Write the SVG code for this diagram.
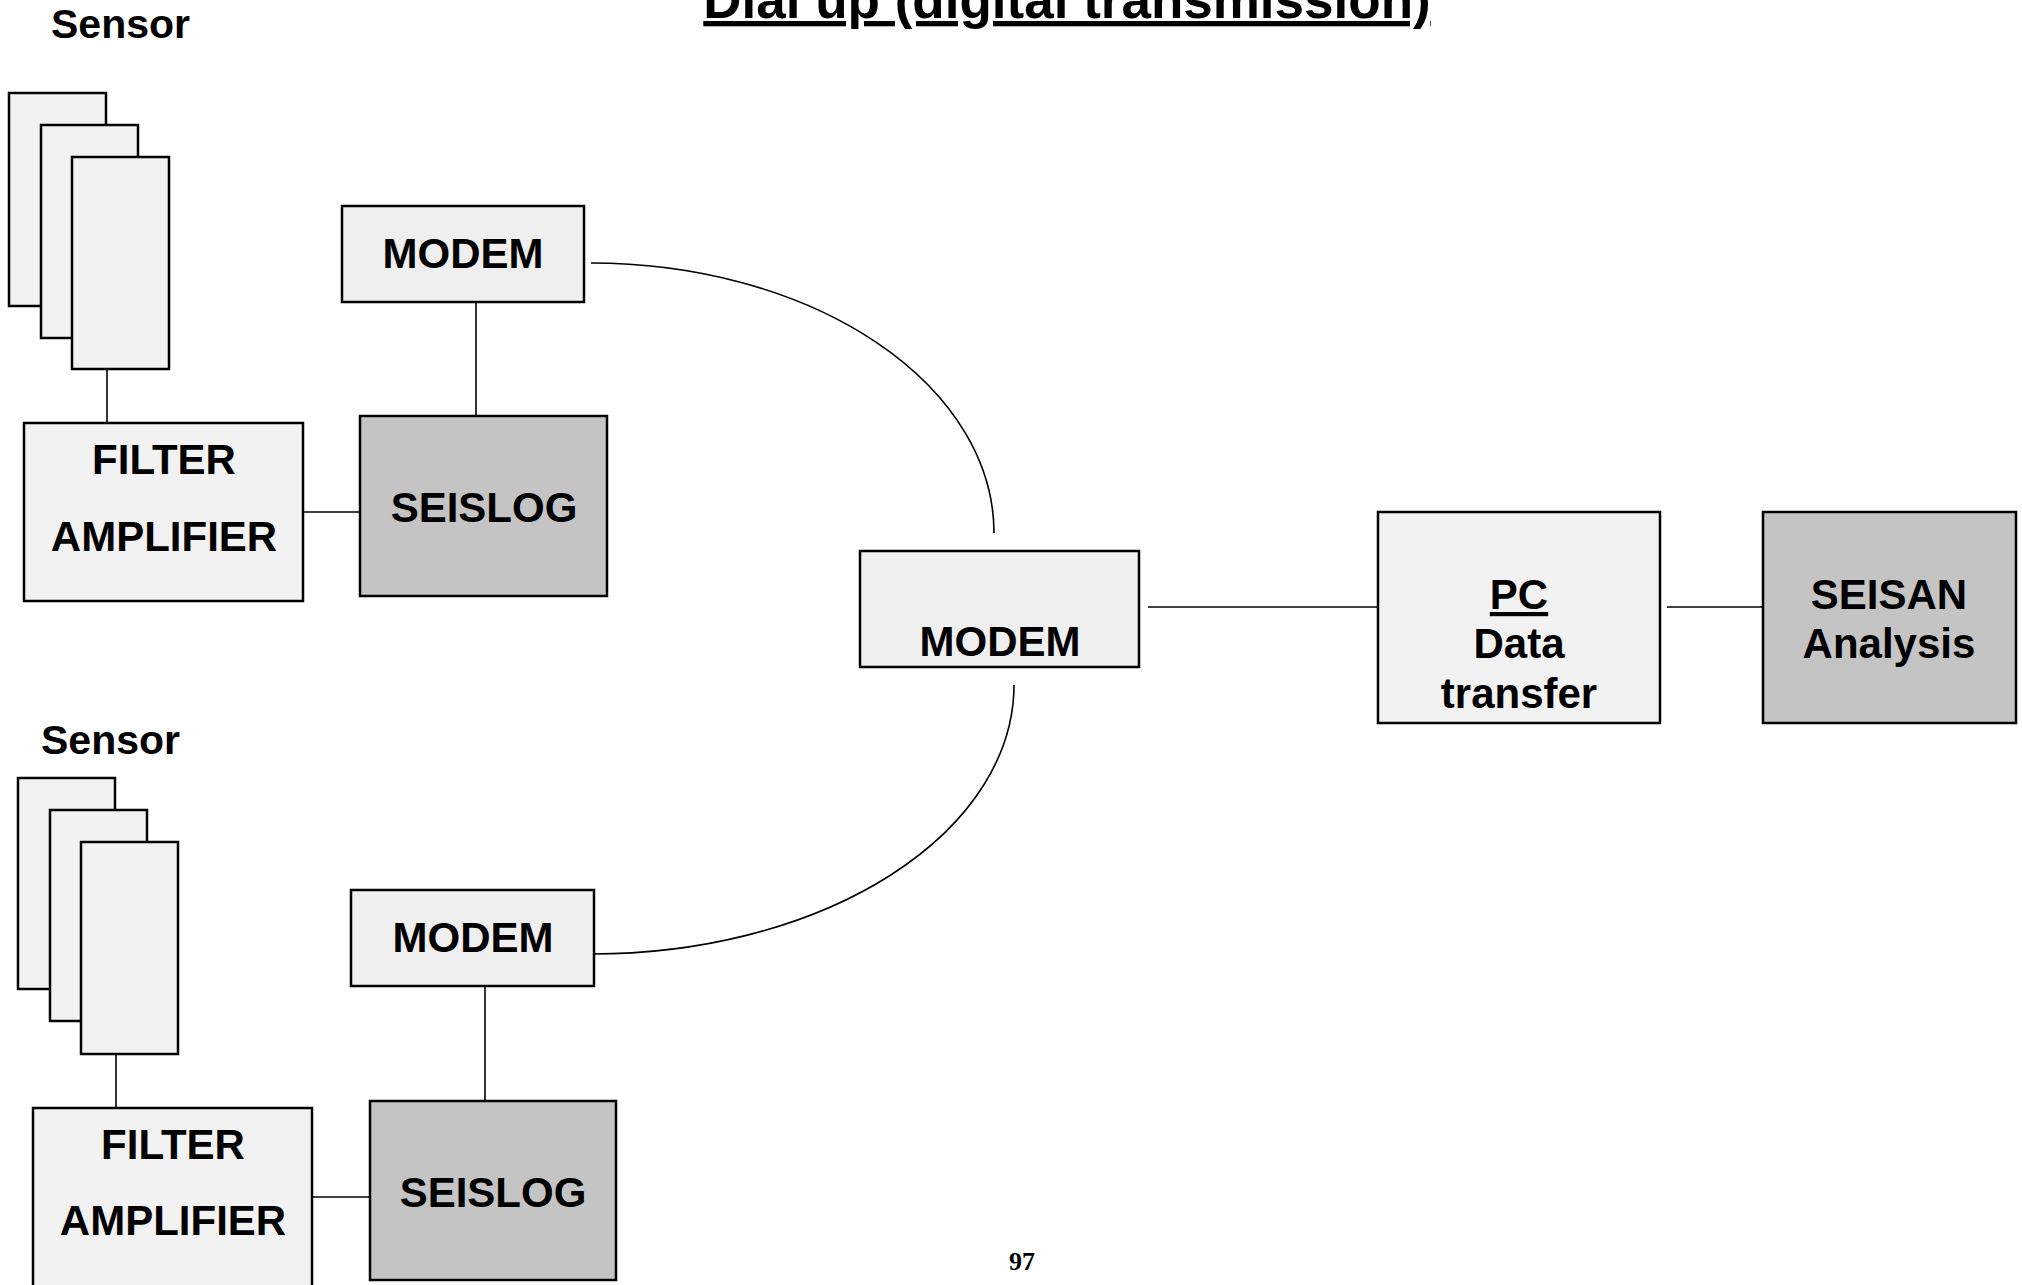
<svg xmlns="http://www.w3.org/2000/svg" width="2022" height="1285" viewBox="0 0 2022 1285">
<style>
.box{fill:#f2f2f2;stroke:#000;stroke-width:2.5}
.dark{fill:#c4c4c4;stroke:#000;stroke-width:2.5}
.t{font-family:"Liberation Sans",Arial,sans-serif;font-weight:bold;font-size:42px;fill:#000;text-anchor:middle}
.lbl{font-family:"Liberation Sans",Arial,sans-serif;font-weight:bold;font-size:41px;fill:#000}
.c{fill:none;stroke:#000;stroke-width:1.6}
</style>
<rect width="2022" height="1285" fill="#fff"/>
<text x="1067" y="18" class="t" style="font-size:53px;text-decoration:underline">Dial up (digital transmission)</text>
<text x="51" y="38" class="lbl">Sensor</text>
<text x="41" y="754" class="lbl">Sensor</text>
<g id="connectors">
<line class="c" x1="107" y1="369" x2="107" y2="423"/>
<line class="c" x1="303" y1="512" x2="360" y2="512"/>
<line class="c" x1="476" y1="302" x2="476" y2="426"/>
<path class="c" d="M591,263 A403,270 0 0 1 994,533"/>
<path class="c" d="M1014,685 A422,269 0 0 1 592,954"/>
<line class="c" x1="1148" y1="607" x2="1378" y2="607"/>
<line class="c" x1="1667" y1="607" x2="1763" y2="607"/>
<line class="c" x1="116" y1="1054" x2="116" y2="1108"/>
<line class="c" x1="312" y1="1197" x2="370" y2="1197"/>
<line class="c" x1="485" y1="986" x2="485" y2="1110"/>
</g>
<g id="sensor1">
<rect class="box" x="9" y="93" width="97" height="213"/>
<rect class="box" x="41" y="125" width="97" height="213"/>
<rect class="box" x="72" y="157" width="97" height="212"/>
</g>
<g id="filter1">
<rect class="box" x="24" y="423" width="279" height="178"/>
<text class="t" x="164" y="474">FILTER</text>
<text class="t" x="164" y="551">AMPLIFIER</text>
</g>
<g id="seislog1">
<rect class="dark" x="360" y="416" width="247" height="180"/>
<text class="t" x="484" y="522">SEISLOG</text>
</g>
<g id="modem1">
<rect class="box" x="342" y="206" width="242" height="96" style="fill:#efefef"/>
<text class="t" x="463" y="268">MODEM</text>
</g>
<g id="modem-central">
<rect class="box" x="860" y="551" width="279" height="116" style="fill:#efefef"/>
<text class="t" x="1000" y="656">MODEM</text>
</g>
<g id="pc">
<rect class="box" x="1378" y="512" width="282" height="211"/>
<text class="t" x="1519" y="609" style="text-decoration:underline">PC</text>
<text class="t" x="1519" y="658">Data</text>
<text class="t" x="1519" y="708">transfer</text>
</g>
<g id="seisan">
<rect class="dark" x="1763" y="512" width="253" height="211"/>
<text class="t" x="1889" y="609">SEISAN</text>
<text class="t" x="1889" y="658">Analysis</text>
</g>
<g id="sensor2">
<rect class="box" x="18" y="778" width="97" height="211"/>
<rect class="box" x="50" y="810" width="97" height="211"/>
<rect class="box" x="81" y="842" width="97" height="212"/>
</g>
<g id="filter2">
<rect class="box" x="33" y="1108" width="279" height="180"/>
<text class="t" x="173" y="1159">FILTER</text>
<text class="t" x="173" y="1235">AMPLIFIER</text>
</g>
<g id="seislog2">
<rect class="dark" x="370" y="1101" width="246" height="179"/>
<text class="t" x="493" y="1207">SEISLOG</text>
</g>
<g id="modem2">
<rect class="box" x="351" y="890" width="243" height="96" style="fill:#efefef"/>
<text class="t" x="473" y="952">MODEM</text>
</g>
<text x="1022" y="1270" style="font-family:'Liberation Serif','Times New Roman',serif;font-weight:bold;font-size:26px;text-anchor:middle">97</text>
</svg>
